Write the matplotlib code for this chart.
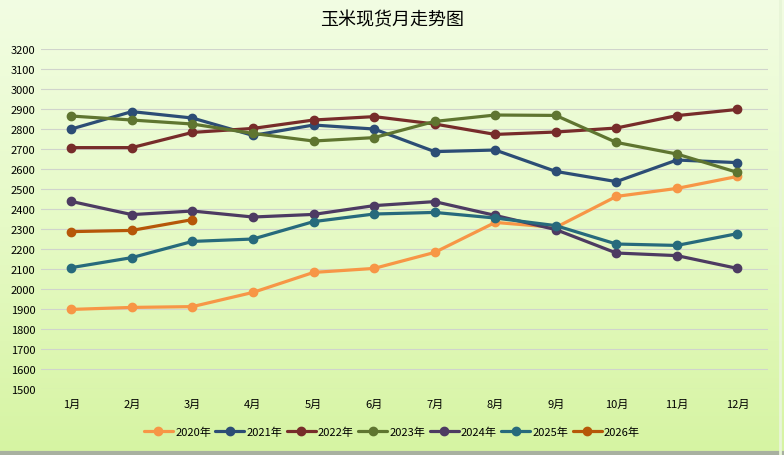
import numpy as np
import matplotlib
matplotlib.use('Agg')
import matplotlib.pyplot as plt
from matplotlib.colors import LinearSegmentedColormap

plt.rcParams['font.family'] = ['Noto Sans CJK SC', 'DejaVu Sans']

months = ['1月', '2月', '3月', '4月', '5月', '6月', '7月', '8月', '9月', '10月', '11月', '12月']
series_names = ['2020年', '2021年', '2022年', '2023年', '2024年', '2025年', '2026年']

y2020 = [1898, 1908, 1912, 1983, 2083, 2103, 2183, 2333, 2308, 2463, 2503, 2563]
y2021 = [2800, 2887, 2855, 2768, 2820, 2800, 2687, 2695, 2588, 2537, 2645, 2632]
y2022 = [2707, 2707, 2783, 2803, 2845, 2862, 2825, 2773, 2785, 2805, 2867, 2898]
y2023 = [2865, 2845, 2825, 2778, 2740, 2757, 2838, 2870, 2868, 2733, 2675, 2583]
y2024 = [2438, 2372, 2390, 2360, 2373, 2417, 2437, 2368, 2297, 2180, 2167, 2103]
y2025 = [2107, 2157, 2238, 2250, 2337, 2375, 2383, 2355, 2317, 2225, 2218, 2277]
y2026 = [2287, 2293, 2347]

series = [y2020, y2021, y2022, y2023, y2024, y2025, y2026]
colors = ['#F79646', '#2C4D75', '#772C2A', '#5F7530', '#4D3B62', '#276A7C', '#B65708']

fig = plt.figure(figsize=(7.84, 4.56), dpi=100)

# gradient background
bg = fig.add_axes([0, 0, 1, 1], zorder=-10)
cmap = LinearSegmentedColormap.from_list('bg', ['#F2FDE3', '#E6FAC6', '#D6F4A2'])
grad = np.linspace(0, 1, 256).reshape(-1, 1)
bg.imshow(grad, aspect='auto', cmap=cmap, extent=[0, 1, 0, 1], origin='upper')
bg.axhline(0.004, color='#A8B0A0', lw=3)
bg.axvline(0.995, color='#E8F5D8', lw=2)
bg.set_xlim(0, 1)
bg.set_ylim(0, 1)
bg.axis('off')

ax = fig.add_axes([0.0523, 0.1447, 0.927, 0.7456])
ax.patch.set_alpha(0)

x = np.arange(len(months))
for name, vals, c in zip(series_names, series, colors):
    ax.plot(x[:len(vals)], vals, color=c, lw=2.3, marker='o', markersize=6,
            label=name, solid_capstyle='round')

ax.set_xlim(-0.5, 11.5)
ax.set_ylim(1500, 3200)
ax.set_yticks(np.arange(1500, 3201, 100))
ax.set_xticks(x)
ax.set_xticklabels(months)
ax.tick_params(axis='both', length=0, labelsize=8, colors='black')
ax.tick_params(axis='y', pad=4)
ax.tick_params(axis='x', pad=7)
ax.grid(axis='y', color='#D0D4CC', lw=0.8)
ax.set_axisbelow(True)
for s in ax.spines.values():
    s.set_visible(False)

fig.text(0.5, 0.955, '玉米现货月走势图', ha='center', va='center', fontsize=13)

fig.legend(loc='center', bbox_to_anchor=(0.5, 0.05), ncol=7, frameon=False,
           fontsize=8, handlelength=2.6, handletextpad=0.2, columnspacing=0.4)

fig.savefig('out.png', dpi=100)
